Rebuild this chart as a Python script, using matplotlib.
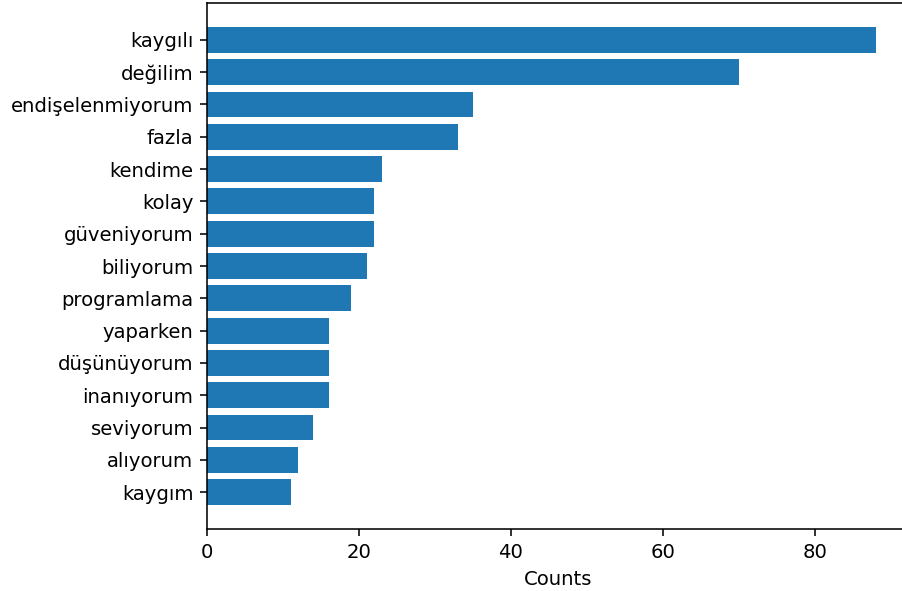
import matplotlib
matplotlib.use("Agg")
import matplotlib.pyplot as plt

words = ["kaygılı", "değilim", "endişelenmiyorum", "fazla", "kendime", "kolay",
         "güveniyorum", "biliyorum", "programlama", "yaparken", "düşünüyorum",
         "inanıyorum", "seviyorum", "alıyorum", "kaygım"]
counts = [88, 70, 35, 33, 23, 22, 22, 21, 19, 16, 16, 16, 14, 12, 11]

DPI = 141
W, H = 902, 591
fig = plt.figure(figsize=(W / DPI, H / DPI), dpi=DPI)
left, right, top, bottom = 207, 909, 3, 529
ax = fig.add_axes([left / W, 1 - bottom / H, (right - left) / W, (bottom - top) / H])
ax.barh(words[::-1], counts[::-1], color="#1f77b4")
ax.set_xlabel("Counts")
fig.savefig("out.png", dpi=DPI)
